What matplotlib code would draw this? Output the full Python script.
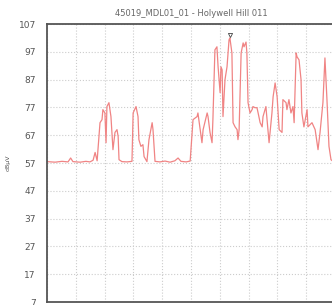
import matplotlib
matplotlib.use("Agg")
import matplotlib.pyplot as plt

# sweep position (% of span) and level in dBuV
sweep = [0, 2.8, 5.2, 7.3, 8.2, 9.0, 11.5, 13.5, 14.9, 16.0, 16.7, 17.4, 18.4, 19.1, 19.4,
         20.1, 20.5, 20.8, 21.5, 22.2, 22.9, 23.6, 24.3, 24.7, 25.0, 26.0, 27.8, 29.5, 29.9,
         30.9, 31.6, 31.9, 32.6, 33.3, 33.7, 34.7, 35.4, 36.5, 36.8, 37.5, 39.2, 41.0, 42.7,
         44.4, 45.5, 46.5, 48.3, 49.7, 50.7, 52.1, 52.4, 53.8, 54.2, 55.6, 55.9, 56.6, 57.3,
         57.6, 58.3, 59.0, 59.4, 60.1, 60.4, 60.8, 61.1, 61.8, 62.5, 63.2, 63.5, 64.2, 64.6,
         65.3, 66.0, 66.3, 66.7, 67.4, 68.1, 68.4, 69.1, 69.4, 69.8, 70.5, 71.2, 71.5, 72.2,
         72.9, 73.3, 74.0, 74.7, 75.0, 76.0, 76.4, 77.1, 78.1, 78.5, 79.2, 79.9, 80.6, 81.6,
         81.9, 83.0, 83.3, 84.0, 84.7, 85.4, 85.8, 86.5, 86.8, 87.5, 88.2, 88.5, 89.2, 90.3,
         90.6, 92.0, 93.1, 94.1, 94.8, 95.8, 96.5, 97.2, 97.9, 98.6, 99.3, 100]
level = [57.5, 57.3, 57.6, 57.4, 58.8, 57.5, 57.3, 57.6, 57.4, 58.0, 60.8, 57.8, 71.5, 72.6, 76.2,
         75.0, 64.3, 77.3, 78.7, 73.7, 61.8, 68.0, 69.0, 66.5, 58.2, 57.5, 57.4, 57.6, 75.0,
         77.3, 73.7, 65.4, 63.0, 63.6, 59.3, 57.5, 65.4, 71.5, 69.0, 57.6, 57.4, 57.7, 57.3,
         57.8, 58.8, 57.6, 57.4, 57.7, 72.6, 73.7, 75.0, 64.3, 69.0, 75.0, 73.7, 68.0, 64.3,
         72.6, 97.7, 98.8, 91.6, 82.3, 91.6, 90.5, 73.7, 87.0, 91.6, 101.3, 102.0, 96.6, 71.5,
         70.0, 69.0, 65.4, 69.0, 96.6, 100.2, 98.8, 100.5, 96.6, 78.7, 75.0, 76.2, 77.3, 76.9,
         76.9, 75.0, 71.5, 70.0, 73.7, 77.3, 72.6, 64.3, 75.0, 80.8, 85.8, 80.8, 69.0, 68.0,
         79.8, 78.7, 76.2, 79.8, 75.0, 77.3, 71.5, 96.6, 95.2, 94.1, 87.0, 75.0, 70.0, 76.2,
         70.0, 71.5, 69.0, 61.8, 68.0, 78.7, 94.8, 79.8, 63.0, 58.2, 57.6, 57.5]
peak_pos = 63.5
peak_level = 103.0
yticks = [7, 17, 27, 37, 47, 57, 67, 77, 87, 97, 107]

fig = plt.figure(figsize=(3.32, 3.05), dpi=100)
ax = fig.add_axes([0.1416, 0.0098, 0.8675, 0.9115])

ax.plot(sweep, level, color='#f08484', linewidth=0.9)
ax.plot([peak_pos], [peak_level], marker='v', markersize=3, markerfacecolor='none',
        markeredgecolor='#444444', markeredgewidth=0.6, linestyle='none')

ax.set_xlim(0, 100)
ax.set_ylim(7, 107)
ax.set_yticks(yticks)
ax.set_xticks(range(0, 101, 10))
ax.set_xticklabels([])
ax.tick_params(axis='y', length=0, labelsize=6.5, labelcolor='#555555', pad=8)
ax.tick_params(axis='x', length=0)
ax.grid(True, color='#cccccc', linestyle=':', linewidth=0.8)

for side in ['left', 'top', 'bottom']:
    ax.spines[side].set_color('#555555')
    ax.spines[side].set_linewidth(1.3)
ax.spines['right'].set_visible(False)

ax.set_ylabel('dBμV', fontsize=4.5, color='#555555', labelpad=6)
ax.set_title('45019_MDL01_01 - Holywell Hill 011', fontsize=6, color='#666666', pad=6)

plt.savefig('out.png', dpi=100)
